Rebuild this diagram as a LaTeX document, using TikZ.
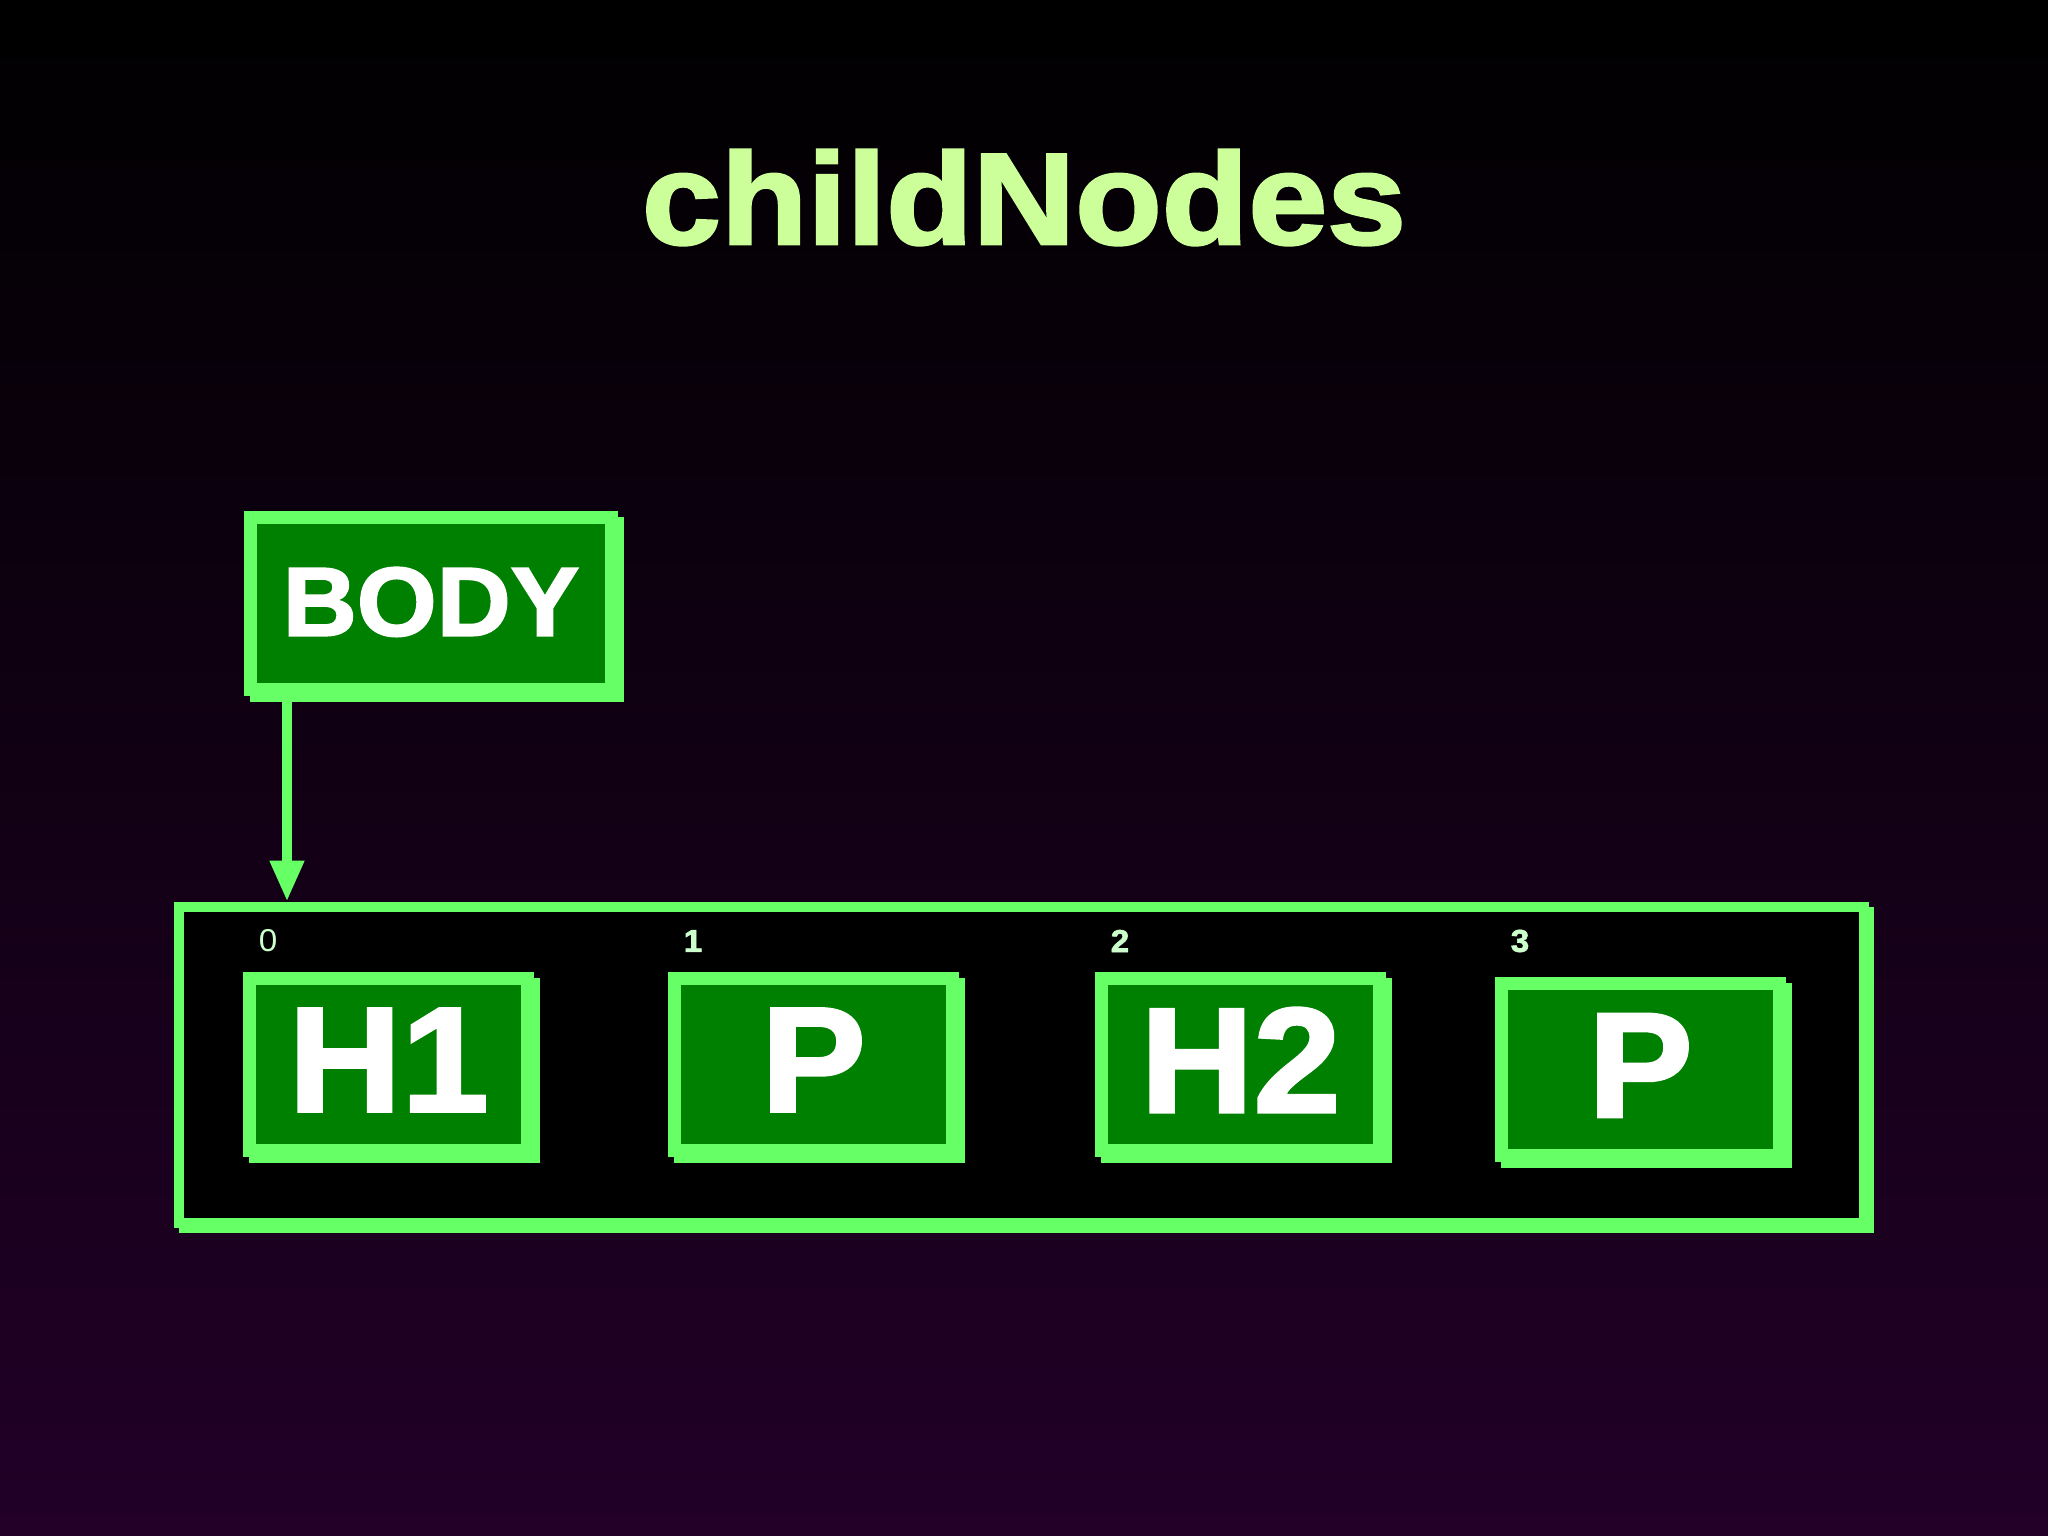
\documentclass[tikz,border=0pt]{standalone}
\usepackage{fontspec}
\newfontfamily\slidefont{Liberation Sans}[FakeStretch=1.05,BoldFeatures={FakeBold=2}]
\newfontfamily\titlefont{Liberation Sans}[FakeStretch=1.09,BoldFeatures={FakeBold=2.2}]
\usetikzlibrary{positioning,calc,arrows.meta,shadows}
\definecolor{edgegreen}{RGB}{102,255,102}
\definecolor{boxgreen}{RGB}{0,128,0}
\definecolor{titlegreen}{RGB}{204,255,153}
\definecolor{idxgreen}{RGB}{204,255,204}
\definecolor{bgpurple}{RGB}{34,0,40}

\begin{document}
\begin{tikzpicture}[
	elem/.style={rectangle,draw=edgegreen,fill=boxgreen,line width=0.13cm,inner sep=0pt,
		minimum width=2.78cm,minimum height=1.72cm,text=white,
		font=\slidefont\bfseries\fontsize{42.5}{42.5}\selectfont,
		general shadow={draw=edgegreen,fill=edgegreen,line width=0.13cm,shadow xshift=0.06cm,shadow yshift=-0.06cm}},
	idx/.style={text=idxgreen,inner sep=0pt},
	link/.style={draw=edgegreen,line width=0.1cm,-{Triangle[width=0.32cm,length=0.41cm]}}
]
\useasboundingbox (0,0) rectangle (20.48,15.36);
\shade[top color=black,bottom color=bgpurple] (0,0) rectangle (20.48,15.36);

\node[text=titlegreen,font=\titlefont\bfseries\fontsize{37}{37}\selectfont,anchor=base] (title) at (10.24,12.92) {childNodes};

\node[elem,minimum width=3.61cm,font=\slidefont\bfseries\fontsize{27.8}{27.8}\selectfont] (body) at (4.31,9.325) {\raisebox{0.04cm}{BODY}};

\node[rectangle,draw=edgegreen,fill=black,line width=0.105cm,minimum width=16.85cm,minimum height=3.16cm,
	general shadow={draw=edgegreen,line width=0.105cm,shadow xshift=0.05cm,shadow yshift=-0.05cm}] (list) at (10.215,4.71) {};

\coordinate (tail) at ($(body.south west)+(0.43,0)$);
\draw[link] (tail) -- (tail |- list.north);

\coordinate (idxrow) at (0,5.95);
\foreach \n/\x/\y/\lbl/\w [count=\k from 0] in {h1/3.885/4.715/H1/m,p1/8.135/4.715/P/b,h2/12.405/4.715/H2/b,p2/16.405/4.66/P/b}{
	\node[elem] (\n) at (\x,\y) {\raisebox{0.09cm}{\lbl}};
	\path (\n.north west) ++(0.25,0) coordinate (top\k);
	\node[idx,font=\slidefont\fontseries{\w}\fontsize{9}{9}\selectfont] (idx\k) at (top\k |- idxrow) {\k};
}

\end{tikzpicture}
\end{document}
